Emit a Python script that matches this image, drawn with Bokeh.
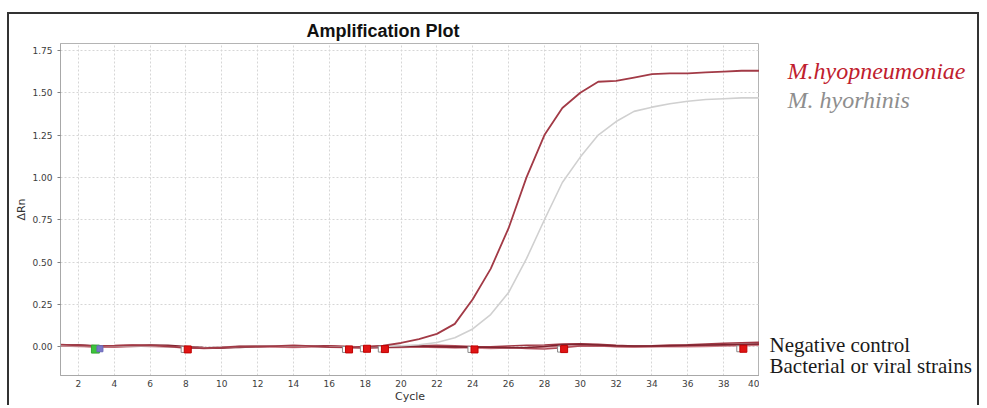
from bokeh.plotting import figure
from bokeh.models import Label, FixedTicker, NumeralTickFormatter, Range1d
from bokeh.layouts import row
from bokeh.embed import file_html
from bokeh.resources import INLINE

# ---------------- data ----------------
cycles = list(range(1, 41))

hyopneumoniae = [0.012, 0.008, 0.004, 0.006, 0.010, 0.008, 0.002, -0.006, -0.008, -0.004,
                 0.002, 0.000, 0.004, 0.008, 0.004, -0.002, -0.004, 0.000, 0.006, 0.022,
                 0.045, 0.076, 0.135, 0.280, 0.460, 0.700, 1.000, 1.250, 1.410, 1.500,
                 1.565, 1.570, 1.590, 1.610, 1.615, 1.615, 1.620, 1.625, 1.630, 1.630]

hyorhinis = [0.008, 0.006, 0.002, 0.004, 0.006, 0.004, 0.000, -0.004, -0.006, -0.002,
             0.002, 0.002, 0.004, 0.006, 0.002, -0.002, -0.002, 0.000, 0.002, 0.006,
             0.012, 0.025, 0.053, 0.105, 0.190, 0.320, 0.520, 0.750, 0.970, 1.120,
             1.250, 1.330, 1.390, 1.415, 1.435, 1.450, 1.460, 1.465, 1.470, 1.470]

neg_control_a = [0.012, 0.010, 0.006, 0.004, 0.006, 0.010, 0.008, 0.002, -0.004, -0.006,
                 -0.004, 0.000, 0.004, 0.006, 0.004, 0.000, -0.004, -0.006, -0.002, 0.002,
                 0.004, 0.002, 0.000, -0.002, -0.004, -0.006, -0.004, 0.002, 0.012, 0.014,
                 0.010, 0.006, 0.004, 0.004, 0.006, 0.008, 0.010, 0.012, 0.014, 0.016]
neg_control_b = [0.006, 0.004, 0.000, -0.002, 0.002, 0.004, 0.002, -0.004, -0.010, -0.008,
                 -0.002, 0.004, 0.002, 0.000, 0.002, 0.004, 0.000, -0.004, -0.004, 0.000,
                 0.006, 0.008, 0.006, 0.002, 0.000, -0.004, -0.010, -0.014, -0.006, 0.004,
                 0.006, 0.002, 0.000, 0.002, 0.004, 0.006, 0.008, 0.010, 0.012, 0.014]
strain_a = [0.010, 0.008, 0.004, 0.006, 0.008, 0.006, 0.004, -0.002, -0.006, -0.004,
            0.002, 0.006, 0.004, 0.002, 0.004, 0.006, 0.002, -0.002, 0.000, 0.002,
            0.000, -0.002, -0.004, -0.002, 0.000, 0.004, 0.008, 0.010, 0.016, 0.018,
            0.014, 0.008, 0.004, 0.006, 0.010, 0.012, 0.016, 0.020, 0.024, 0.026]
strain_b = [0.004, 0.002, -0.002, 0.000, 0.004, 0.002, -0.002, -0.006, -0.008, -0.006,
            -0.002, 0.000, -0.002, -0.004, -0.002, 0.000, -0.004, -0.008, -0.006, -0.004,
            -0.002, -0.004, -0.006, -0.008, -0.010, -0.008, -0.004, -0.002, 0.002, 0.006,
            0.004, 0.000, -0.002, 0.000, 0.002, 0.000, 0.002, 0.004, 0.006, 0.008]

# Ct markers (red filled + open white), and the green/blue pair
ct_red_x = [8.1, 17.1, 18.1, 19.1, 24.1, 29.1, 39.1]
ct_red_y = [-0.016, -0.016, -0.012, -0.014, -0.016, -0.014, -0.012]
ct_open_x = [7.9, 16.9, 17.9, 18.9, 23.9, 28.9, 38.9]
ct_open_y = [-0.016, -0.016, -0.012, -0.014, -0.016, -0.014, -0.012]
ct_green_x = [2.95]
ct_green_y = [-0.014]
ct_blue_x = [3.2]
ct_blue_y = [-0.012]

x_ticks = list(range(2, 41, 2))
y_ticks = [0.0, 0.25, 0.5, 0.75, 1.0, 1.25, 1.5, 1.75]

title_text = "Amplification Plot"
x_label = "Cycle"
y_label = "ΔRn"
legend_texts = ["M.hyopneumoniae", "M. hyorhinis", "Negative control", "Bacterial or viral strains"]
legend_y = [1.631, 1.455, 0.0117, -0.1115]

# ---------------- main figure ----------------
p = figure(width=750, height=391, x_range=(1, 40), y_range=(-0.170, 1.791),
           output_backend="svg", toolbar_location=None,
           min_border_left=51, min_border_right=0, min_border_top=29, min_border_bottom=28)

p.title.text = title_text
p.title.align = "left"
p.title.offset = 246
p.title.text_font = "Liberation Sans"
p.title.text_font_style = "bold"
p.title.text_font_size = "18px"
p.title.text_color = "#111111"
p.title.standoff = 5

p.outline_line_color = "#b4b4b4"
p.outline_line_width = 1
p.background_fill_color = "white"
p.border_fill_color = "white"

for g in (p.xgrid, p.ygrid):
    g.grid_line_color = "#d6d6d6"
    g.grid_line_dash = "2 2"
    g.grid_line_width = 1

p.xaxis.ticker = FixedTicker(ticks=x_ticks)
p.yaxis.ticker = FixedTicker(ticks=y_ticks)
p.yaxis.formatter = NumeralTickFormatter(format="0.00")
for ax in (p.xaxis, p.yaxis):
    ax.axis_line_color = "#a8a8a8"
    ax.major_tick_line_color = "#808080"
    ax.minor_tick_line_color = None
    ax.major_label_text_font = "DejaVu Sans"
    ax.major_label_text_font_size = "9px"
    ax.major_label_text_color = "#3c3c3c"
    ax.axis_label_text_font = "DejaVu Sans"
    ax.axis_label_text_font_style = "normal"
    ax.axis_label_text_font_size = "11px"
    ax.axis_label_text_color = "#333333"
p.xaxis.major_tick_out = 0
p.xaxis.major_tick_in = 0
p.xaxis.major_label_standoff = 4
p.xaxis.axis_label = x_label
p.xaxis.axis_label_standoff = 0
p.yaxis.major_tick_out = 3
p.yaxis.major_tick_in = 0
p.yaxis.major_label_standoff = 5
p.yaxis.axis_label = y_label
p.yaxis.axis_label_standoff = 1

# baseline (negative / other strains) curves
p.line(cycles, strain_b, line_color="#cf7f88", line_width=1.5)
p.line(cycles, neg_control_b, line_color="#b04c58", line_width=1.5)
p.line(cycles, strain_a, line_color="#a03844", line_width=1.5)
p.line(cycles, neg_control_a, line_color="#7f2430", line_width=1.5)

# positive curves
p.line(cycles, hyorhinis, line_color="#d0d0d0", line_width=1.6)
p.line(cycles, hyopneumoniae, line_color="#a23a46", line_width=1.8)

# markers
p.scatter(ct_open_x, ct_open_y, marker="square", size=6, fill_color="white", line_color="#8a8a8a")
p.scatter(ct_red_x, ct_red_y, marker="square", size=7, fill_color="#e01414", line_color="#c00000")
p.scatter(ct_green_x, ct_green_y, marker="square", size=8, fill_color="#3cc43c", line_color="#30a830")
p.scatter(ct_blue_x, ct_blue_y, marker="square", size=6, fill_color="#7a78c8", line_color="#6a68b8")

# ---------------- right text panel (shares the y scale) ----------------
t = figure(width=218, height=391, x_range=Range1d(0, 218), y_range=p.y_range,
           output_backend="svg", toolbar_location=None,
           min_border_left=0, min_border_right=0, min_border_top=29, min_border_bottom=28)
t.axis.visible = False
t.grid.visible = False
t.outline_line_color = None
t.background_fill_color = "white"
t.border_fill_color = "white"

t.add_layout(Label(x=28, y=legend_y[0], text=legend_texts[0], text_align="left", text_baseline="alphabetic",
                   text_font="Liberation Serif", text_font_style="italic", text_font_size="24px",
                   text_color="#c0202e"))
t.add_layout(Label(x=28, y=legend_y[1], text=legend_texts[1], text_align="left", text_baseline="alphabetic",
                   text_font="Liberation Serif", text_font_style="italic", text_font_size="24px",
                   text_color="#8e8e8e"))
t.add_layout(Label(x=10, y=legend_y[2], text=legend_texts[2], text_align="left", text_baseline="alphabetic",
                   text_font="Liberation Serif", text_font_size="21px", text_color="#1a1a1a"))
t.add_layout(Label(x=10, y=legend_y[3], text=legend_texts[3], text_align="left", text_baseline="alphabetic",
                   text_font="Liberation Serif", text_font_size="21px", text_color="#1a1a1a"))

layout = row(p, t)
layout.styles = {"margin-top": "12px", "margin-left": "7px",
                 "border-top": "2px solid #333333", "border-left": "2px solid #333333",
                 "border-right": "2px solid #333333"}

open("out.html", "w").write(file_html(layout, INLINE))
